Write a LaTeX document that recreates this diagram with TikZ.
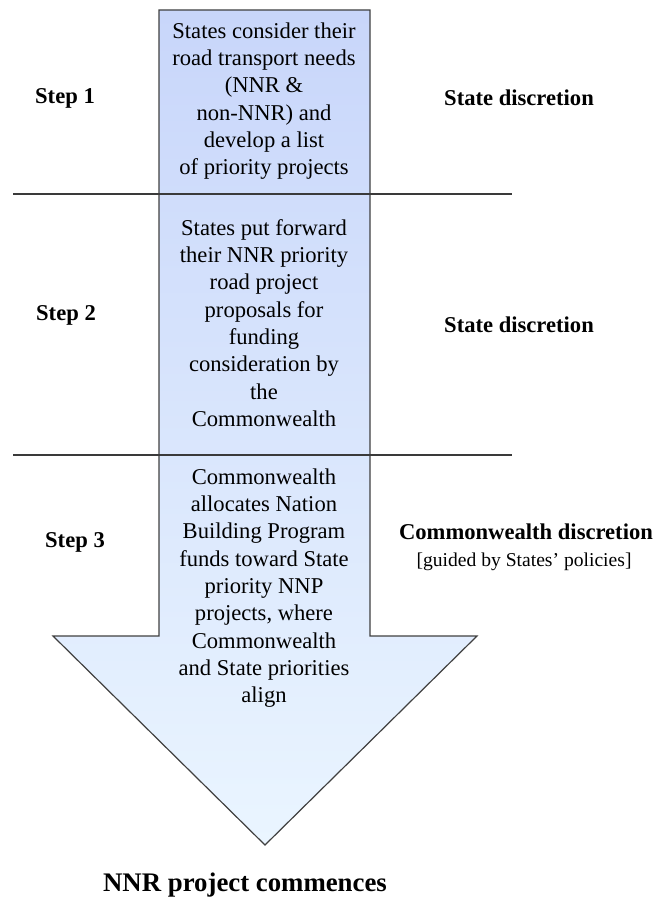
\documentclass[tikz,border=0pt]{standalone}
\usepackage{fontspec}
\setmainfont{Liberation Serif}
\usepackage{tikz}
\usepackage{xcolor}
\definecolor{shafttop}{RGB}{200,214,250}
\definecolor{shaftbottom}{RGB}{234,245,255}
\definecolor{edgegray}{RGB}{64,64,64}
\tikzset{
    flow-arrow/.style = {draw=edgegray, line width=0.6pt, top color=shafttop, bottom color=shaftbottom, line join=miter},
    separator/.style = {draw=edgegray!90!black, line width=0.8pt},
    stage-text/.style = {align=center, inner sep=0pt, font=\fontsize{11.3}{13.65}\selectfont},
    step-label/.style = {inner sep=0pt, font=\fontsize{11.3}{13.6}\selectfont\bfseries},
    discretion-label/.style = {inner sep=0pt, font=\fontsize{11.3}{13.6}\selectfont\bfseries},
    guided-note/.style = {inner sep=0pt, font=\fontsize{9.8}{12}\selectfont},
    outcome-label/.style = {inner sep=0pt, font=\fontsize{13.4}{16}\selectfont\bfseries},
}

\begin{document}
\begin{tikzpicture}[x=0.5pt, y=-0.5pt]
\useasboundingbox (0,0) rectangle (656,898);

% big downward arrow
\path[flow-arrow] (159,10) -- (370,10) -- (370,636) -- (477,636) -- (265,845)
    -- (53,636) -- (159,636) -- cycle;

% separators between the steps
\coordinate (sepA-west) at (13,194);
\coordinate (sepA-east) at (512,194);
\coordinate (sepB-west) at (13,455);
\coordinate (sepB-east) at (512,455);
\draw[separator] (sepA-west) -- (sepA-east);
\draw[separator] (sepB-west) -- (sepB-east);

% what happens at each step
\node[stage-text] (needs) at (264,101) {States consider their\\road transport needs\\(NNR \&\\non-NNR) and\\develop a list\\of priority projects};
\node[stage-text] (proposals) at (264,323) {States put forward\\their NNR priority\\road project\\proposals for\\funding\\consideration by\\the\\Commonwealth};
\node[stage-text] (funding) at (264,588) {Commonwealth\\allocates Nation\\Building Program\\funds toward State\\priority NNP\\projects, where\\Commonwealth\\and State priorities\\align};

% step numbers
\node[step-label] (step1) at (65,98) {Step 1};
\node[step-label] (step2) at (66,315) {Step 2};
\node[step-label] (step3) at (75,542) {Step 3};

% who decides
\node[discretion-label] (who1) at (519,98) {State discretion};
\node[discretion-label] (who2) at (519,325) {State discretion};
\node[discretion-label] (who3) at (526,532) {Commonwealth discretion};
\node[guided-note] (guided) at (524,562) {[guided by States’ policies]};

\node[outcome-label] (commence) at (245,885) {NNR project commences};
\end{tikzpicture}
\end{document}
